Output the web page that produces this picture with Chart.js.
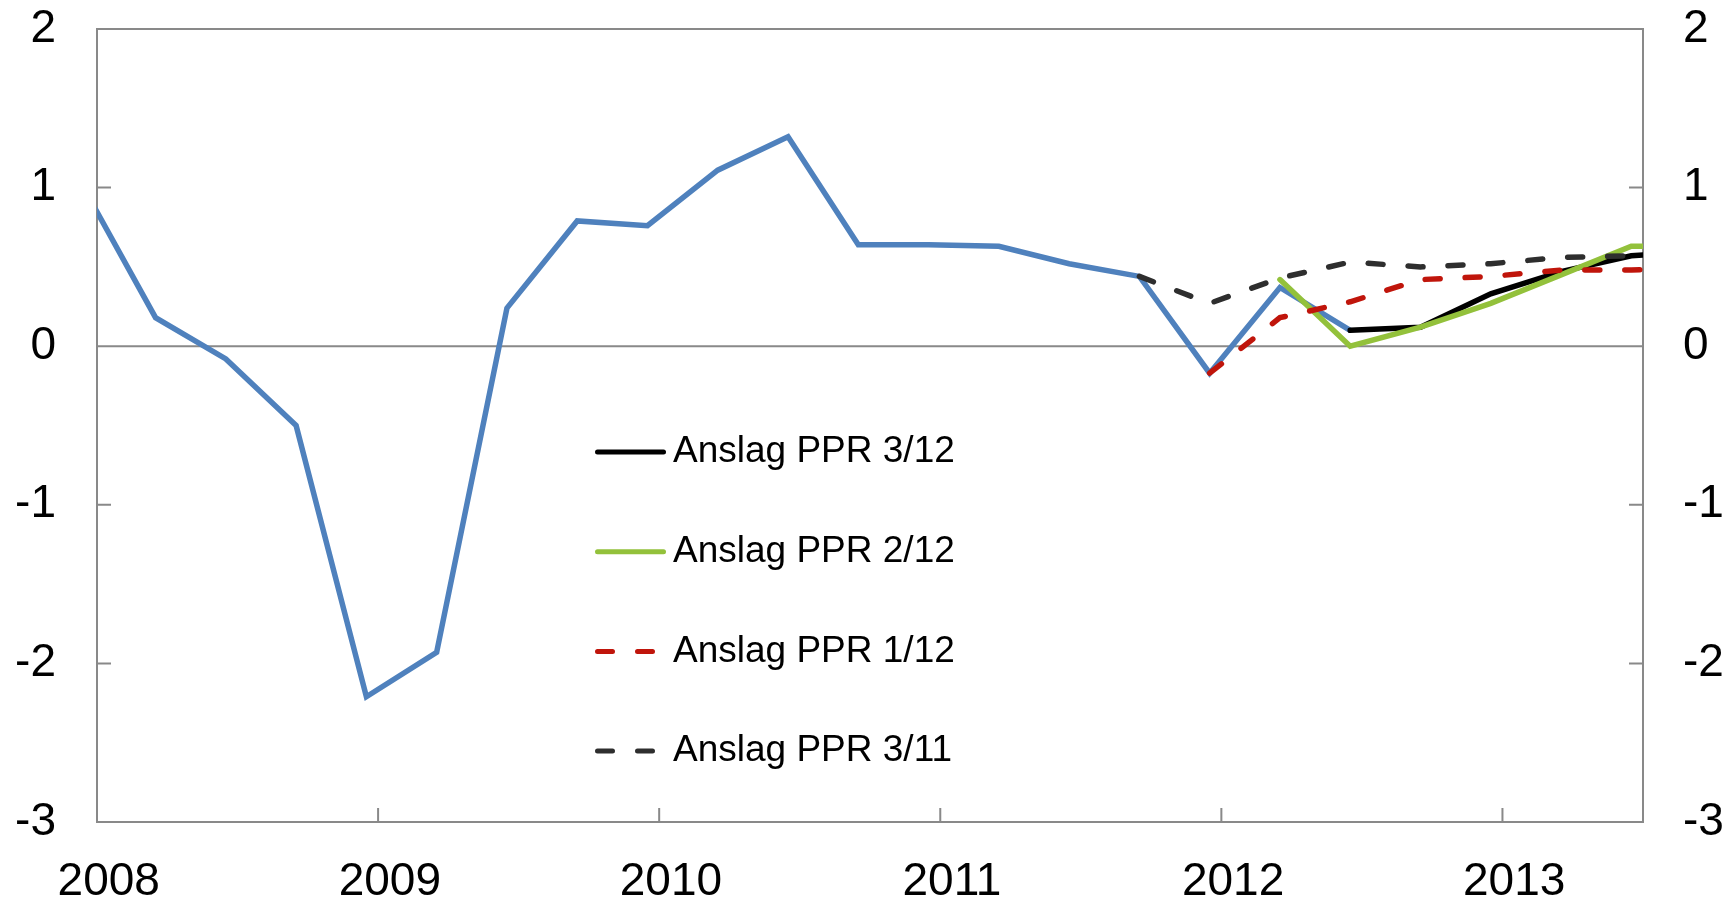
<!DOCTYPE html>
<html>
<head>
<meta charset="utf-8">
<script src="https://cdn.jsdelivr.net/npm/chart.js"></script>
<style>
  body { margin: 0; background: #fff; }
  canvas { display: block; }
</style>
</head>
<body>
<canvas id="chart" width="1731" height="902"></canvas>
<script>
// quarters, 2007K4 and 2013K3 fall just outside the plot and get clipped
const quarters = ['2007K4', '2008K1', '2008K2', '2008K3', '2008K4', '2009K1', '2009K2', '2009K3', '2009K4',
  '2010K1', '2010K2', '2010K3', '2010K4', '2011K1', '2011K2', '2011K3', '2011K4',
  '2012K1', '2012K2', '2012K3', '2012K4', '2013K1', '2013K2', '2013K3'];

const faktisk = [0.98, 0.18, -0.08, -0.50, -2.21, -1.93, 0.24, 0.79, 0.76, 1.11, 1.32, 0.64,
  0.64, 0.63, 0.52, 0.44, -0.17, 0.37, 0.10, null, null, null, null, null];
const ppr312 = [null, null, null, null, null, null, null, null, null, null, null, null,
  null, null, null, null, null, null, 0.10, 0.12, 0.33, 0.47, 0.57, 0.60];
const ppr212 = [null, null, null, null, null, null, null, null, null, null, null, null,
  null, null, null, null, null, 0.42, 0.00, 0.12, 0.27, 0.45, 0.63, 0.63];
const ppr112 = [null, null, null, null, null, null, null, null, null, null, null, null,
  null, null, null, null, -0.17, 0.18, 0.28, 0.42, 0.44, 0.48, 0.48, 0.50];
const ppr311 = [null, null, null, null, null, null, null, null, null, null, null, null,
  null, null, null, 0.44, 0.27, 0.43, 0.53, 0.50, 0.52, 0.56, 0.57, 0.57];

const yearLabels = ['2008', '2009', '2010', '2011', '2012', '2013'];
const yTicks = [-3, -2, -1, 0, 1, 2];

// quarter -> position on a year axis (middle of the quarter's last month)
function quarterPos(q) {
  const year = Number(q.slice(0, 4));
  const k = Number(q.slice(5));
  return year + (3 * k - 0.5) / 12;
}

function toPoints(values) {
  return quarters.map((q, i) => ({ x: quarterPos(q), y: values[i] }));
}

const FONT = '"Liberation Sans", Arial, sans-serif';
const GREY = '#898989';

const frame = {
  id: 'frame',
  beforeDatasetsDraw(chart) {
    const { ctx, chartArea: a } = chart;
    const x = chart.scales.x, y = chart.scales.y;
    ctx.save();
    ctx.strokeStyle = GREY;
    ctx.lineWidth = 2;
    ctx.strokeRect(a.left, a.top, a.right - a.left, a.bottom - a.top);
    ctx.beginPath();
    yTicks.forEach(v => {
      const py = y.getPixelForValue(v);
      ctx.moveTo(a.left, py); ctx.lineTo(a.left + 14, py);
      ctx.moveTo(a.right, py); ctx.lineTo(a.right - 14, py);
    });
    yearLabels.slice(1).forEach(yr => {
      const px = x.getPixelForValue(Number(yr));
      ctx.moveTo(px, a.bottom); ctx.lineTo(px, a.bottom - 14);
    });
    const zero = y.getPixelForValue(0);
    ctx.moveTo(a.left, zero); ctx.lineTo(a.right, zero);
    ctx.stroke();
    ctx.restore();
  }
};

const legendBox = {
  id: 'legendBox',
  afterDatasetsDraw(chart) {
    const ctx = chart.ctx;
    const items = [1, 2, 3, 4];
    ctx.save();
    ctx.font = '37px ' + FONT;
    ctx.textBaseline = 'middle';
    ctx.fillStyle = '#000';
    items.forEach((di, i) => {
      const ds = chart.data.datasets[di];
      const ry = 452 + i * 99.7;
      ctx.beginPath();
      ctx.strokeStyle = ds.borderColor;
      ctx.lineWidth = 5;
      ctx.lineCap = 'round';
      ctx.setLineDash(ds.borderDash || []);
      ctx.moveTo(597.5, ry);
      ctx.lineTo(663.5, ry);
      ctx.stroke();
      ctx.setLineDash([]);
      ctx.fillText(ds.label, 673, ry);
    });
    ctx.restore();
  }
};

const common = { pointRadius: 0, borderWidth: 5.5, tension: 0, clip: 0, spanGaps: false, fill: false,
  borderCapStyle: 'round', borderJoinStyle: 'miter' };

function fixY(width) {
  return s => { s.width = width; s.paddingTop = 0; s.paddingBottom = 0; };
}

new Chart(document.getElementById('chart'), {
  type: 'line',
  data: {
    datasets: [
      { ...common, label: 'Faktisk', data: toPoints(faktisk), borderColor: '#4f81bd', order: 5, borderCapStyle: 'butt' },
      { ...common, label: 'Anslag PPR 3/12', data: toPoints(ppr312), borderColor: '#000000', order: 4 },
      { ...common, label: 'Anslag PPR 2/12', data: toPoints(ppr212), borderColor: '#93c13b', order: 3 },
      { ...common, label: 'Anslag PPR 1/12', data: toPoints(ppr112), borderColor: '#c0150b', order: 2, borderDash: [15, 25] },
      { ...common, label: 'Anslag PPR 3/11', data: toPoints(ppr311), borderColor: '#2e2e2e', order: 1, borderDash: [15, 25] }
    ]
  },
  options: {
    responsive: false,
    animation: false,
    devicePixelRatio: 1,
    layout: { padding: { top: 29, left: 0, right: 0, bottom: 0 } },
    plugins: { legend: { display: false }, tooltip: { enabled: false } },
    scales: {
      x: {
        type: 'linear',
        min: 2008,
        max: 2013.5,
        grid: { display: false, drawTicks: false, tickLength: 0 },
        border: { display: false },
        afterBuildTicks: s => { s.ticks = yearLabels.map(yr => ({ value: Number(yr) + 1 / 24 })); },
        afterFit: s => { s.height = 80; s.paddingLeft = 0; s.paddingRight = 0; },
        ticks: {
          autoSkip: false,
          maxRotation: 0,
          padding: 33,
          color: '#000',
          font: { family: FONT, size: 46 },
          callback: (v, i) => yearLabels[i]
        }
      },
      y: {
        position: 'left',
        min: -3,
        max: 2,
        grid: { display: false, drawTicks: false, tickLength: 0 },
        border: { display: false },
        afterFit: fixY(97),
        ticks: { stepSize: 1, padding: 41, color: '#000', font: { family: FONT, size: 46 } }
      },
      y2: {
        position: 'right',
        min: -3,
        max: 2,
        grid: { display: false, drawTicks: false, tickLength: 0 },
        border: { display: false },
        afterFit: fixY(88),
        ticks: { stepSize: 1, padding: 40, color: '#000', font: { family: FONT, size: 46 } }
      }
    }
  },
  plugins: [frame, legendBox]
});
</script>
</body>
</html>
